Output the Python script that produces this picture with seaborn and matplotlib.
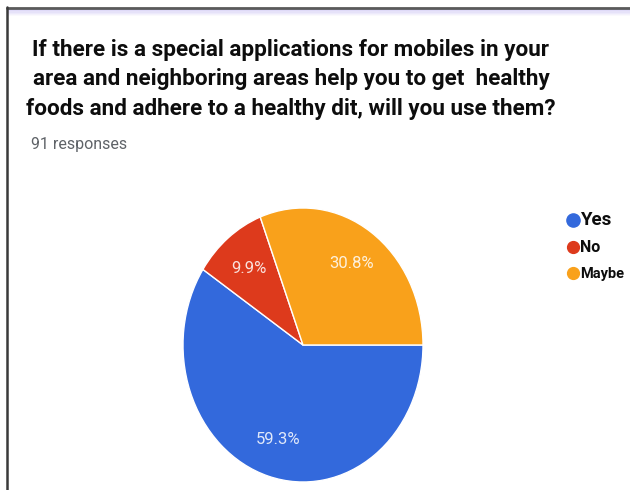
import matplotlib
matplotlib.use("Agg")
import matplotlib.pyplot as plt
from matplotlib.lines import Line2D
from matplotlib.patches import Rectangle
import seaborn as sns

# Survey answers and their shares (percent)
categories = ["Yes", "No", "Maybe"]
shares = [59.3, 9.9, 30.8]
responses = 91
title_lines = [
    "If there is a special applications for mobiles in your",
    "area and neighboring areas help you to get  healthy",
    "foods and adhere to a healthy dit, will you use them?",
]

sns.set_theme(style="white")
plt.rcParams["font.family"] = ["Roboto", "DejaVu Sans"]
palette = sns.color_palette(["#3369DC", "#DD3A1C", "#F9A11B"])

W, H = 630, 490
fig = plt.figure(figsize=(W / 100, H / 100), dpi=100)
fig.patch.set_facecolor("white")


def fx(px):
    return px / W


def fy(py):
    return 1 - py / H


# card frame: dark top rule with a soft lavender band, and a left rule
for i, a in enumerate([0.55, 0.45, 0.35, 0.25, 0.15, 0.07]):
    fig.patches.append(Rectangle((fx(8), fy(10 + i * 1.3)), 1, 1.3 / H,
                                 transform=fig.transFigure, color="#b9aef0",
                                 alpha=a, lw=0, zorder=0))
fig.add_artist(Line2D([fx(7), 1], [fy(8), fy(8)], color="#5a5a5a", lw=2,
                      transform=fig.transFigure))
fig.add_artist(Line2D([fx(7), fx(7)], [fy(7), 0], color="#3a3a3a", lw=1.8,
                      transform=fig.transFigure))

# title, centred line by line
for k, line in enumerate(title_lines):
    fig.text(fx(291), fy(56 + k * 29.5), line, ha="center", va="baseline",
             fontsize=16.2, fontweight="bold", color="#0d0d0d")

fig.text(fx(31), fy(149), f"{responses} responses", ha="left", va="baseline",
         fontsize=11.5, color="#5f6368")

# pie, drawn in a box taller than wide
ax = fig.add_axes([fx(183), fy(482), fx(423) - fx(183), (482 - 208) / H])
wedges, texts, autotexts = ax.pie(
    shares, colors=palette, startangle=0, counterclock=False,
    autopct="%.1f%%", pctdistance=0.72,
    wedgeprops=dict(edgecolor="white", linewidth=1),
    textprops=dict(color="white", alpha=0.85, fontsize=12),
)
ax.set_aspect("auto")
ax.set_xlim(-1, 1)
ax.set_ylim(-1, 1)
ax.axis("off")

# legend with round markers
handles = [Line2D([], [], marker="o", linestyle="", markersize=s,
                  markerfacecolor=c, markeredgecolor=c)
           for c, s in zip(palette, [9.5, 8.5, 8.5])]
leg = fig.legend(handles, categories, loc="upper left",
                 bbox_to_anchor=(fx(568), fy(211)), frameon=False,
                 handlelength=0.6, handletextpad=0.2, labelspacing=0.75,
                 borderaxespad=0, borderpad=0)
for t, s in zip(leg.get_texts(), [13.5, 11.5, 10.5]):
    t.set_fontsize(s)
    t.set_fontweight("bold")
    t.set_color("#0d0d0d")

fig.savefig("out.png", dpi=100, facecolor="white")
